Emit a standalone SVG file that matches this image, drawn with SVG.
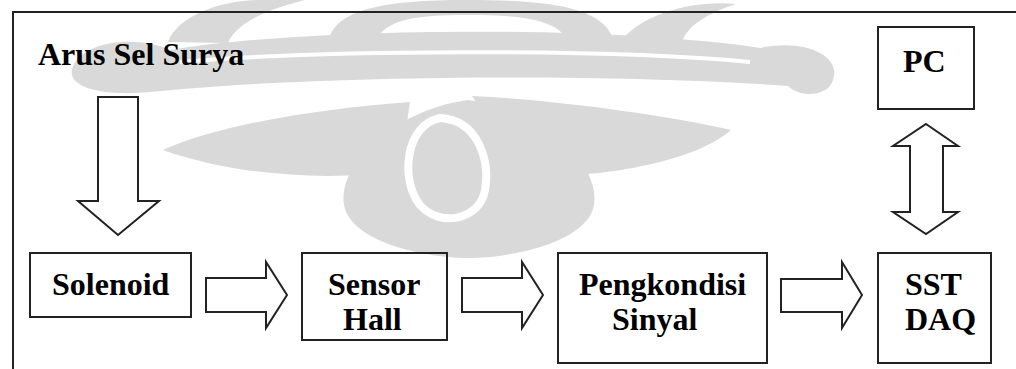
<svg xmlns="http://www.w3.org/2000/svg" width="1016" height="369" viewBox="0 0 1016 369">
<rect width="1016" height="369" fill="#fff"/>
<g id="watermark" fill="#d9d9d9">
<path d="M72,70 C78,42 135,34 170,50 C300,28 600,24 760,48 C805,38 842,56 833,80 C828,97 800,98 788,86 C600,72 300,76 150,92 C110,96 68,90 72,70 Z"/>
<path d="M180,62 C320,50 600,48 750,62" fill="none" stroke="#fff" stroke-width="4"/>
<path d="M468,100 C545,110 608,170 592,212 C576,246 505,258 468,258 C432,258 362,246 346,212 C330,170 392,110 468,100 Z"/>
<path d="M440,118 C478,120 490,160 485,190 C480,220 440,228 420,205 C400,180 405,125 440,118 Z" fill="none" stroke="#fff" stroke-width="8"/>
<path d="M410,102 C330,108 225,122 163,150 C235,176 335,182 400,170 Z"/>
<path d="M472,96 C565,100 680,118 731,130 C690,166 580,180 522,175 Z"/>
<path d="M168,42 C178,16 220,0 262,0 L305,0 C265,10 235,24 228,43 Z"/>
<path d="M330,36 C340,10 382,0 468,0 C560,0 600,10 612,36 L565,36 C552,20 522,15 468,15 C412,15 392,20 378,36 Z"/>
<path d="M622,40 C642,15 690,0 736,4 C702,15 684,30 682,43 Z"/>
</g>
<g id="frame">
<path d="M13,369 L13,12 L1016,12" fill="none" stroke="#222" stroke-width="2"/>
</g>
<g id="nodes" font-family="Liberation Serif" font-weight="bold" font-size="32">
<g id="label-arus">
<text x="38" y="65">Arus Sel Surya</text>
</g>
<g id="node-solenoid">
<rect x="30" y="253" width="161" height="64" fill="none" stroke="#222" stroke-width="2"/>
<text x="52" y="295">Solenoid</text>
</g>
<g id="node-sensor">
<rect x="302" y="253" width="145" height="87" fill="none" stroke="#222" stroke-width="2"/>
<text x="328" y="295">Sensor</text>
<text x="343" y="330">Hall</text>
</g>
<g id="node-pengkondisi">
<rect x="558" y="253" width="209" height="110" fill="none" stroke="#222" stroke-width="2"/>
<text x="579" y="295">Pengkondisi</text>
<text x="612" y="330">Sinyal</text>
</g>
<g id="node-sstdaq">
<rect x="878" y="253" width="113" height="110" fill="none" stroke="#222" stroke-width="2"/>
<text x="905" y="295">SST</text>
<text x="905" y="330">DAQ</text>
</g>
<g id="node-pc">
<rect x="878" y="27" width="96" height="82" fill="none" stroke="#222" stroke-width="2"/>
<text x="903" y="72">PC</text>
</g>
</g>
<g id="connectors" fill="none" stroke="#222" stroke-width="2">
<polygon points="98,97 138,97 138,201 159,201 118,235 78,201 98,201"/>
<polygon points="206,278 266,278 266,262 287,295 266,328 266,312 206,312"/>
<polygon points="462,278 522,278 522,262 543,295 522,328 522,312 462,312"/>
<polygon points="781,279 842,279 842,262 862,295 842,328 842,312 781,312"/>
<polygon points="926,124 958,146 943,146 943,212 958,212 926,234 893,212 910,212 910,146 893,146"/>
</g>
</svg>
